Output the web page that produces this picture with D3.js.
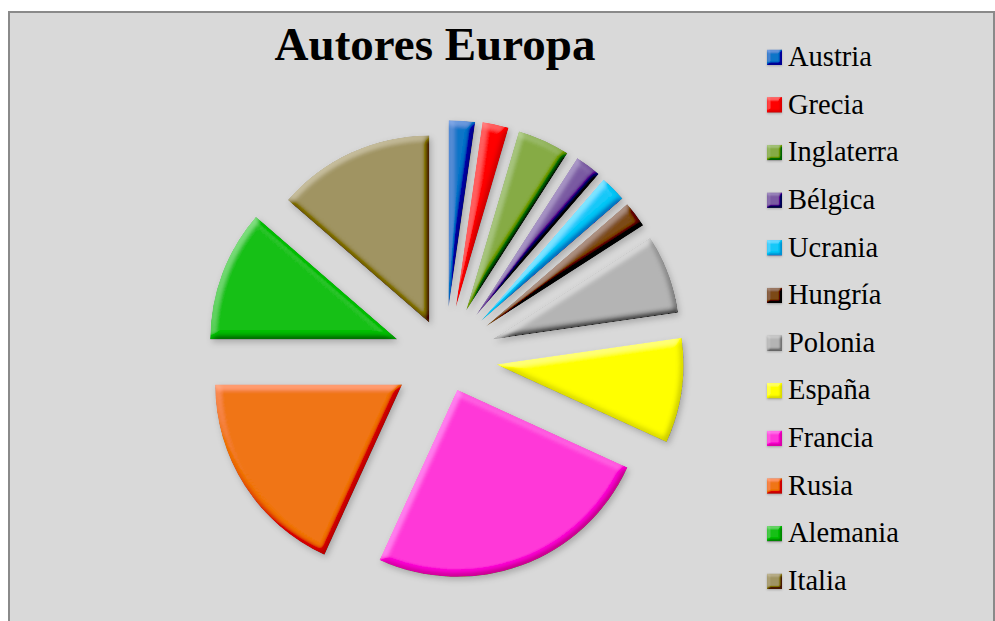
<!DOCTYPE html>
<html>
<head>
<meta charset="utf-8">
<script src="https://cdn.jsdelivr.net/npm/d3@7"></script>
<style>
  body { margin: 0; background: #fff; }
  svg { display: block; }
</style>
</head>
<body>
<div id="wrapper"></div>
<script>
// data
const paises = ["Austria", "Grecia", "Inglaterra", "Bélgica", "Ucrania", "Hungría",
                "Polonia", "España", "Francia", "Rusia", "Alemania", "Italia"]
const autores = [1, 1, 2, 1, 1, 1, 3, 4, 11, 8, 5, 6]

// styles
const colores = ["#0b74c8", "#ff0000", "#86ab44", "#7a5aa2", "#12c8f8", "#7c4a14",
                 "#b4b4b4", "#ffff00", "#ff38d8", "#f07514", "#14c014", "#a09462"]
const explode = [50, 51, 51, 52, 51, 51, 51, 52, 35, 51, 51, 38]

function drawPie() {
  const width = 995
  const height = 621
  const radius = 187
  const center = [445, 357]

  const svg = d3.select("#wrapper")
    .append("svg")
      .attr("width", width)
      .attr("height", height)

  const defs = svg.append("defs")

  // bevel + soft shadow filter, blur controls the bevel width
  function bevelFilter(id, blur, scale, strength, shadow) {
    const f = defs.append("filter")
      .attr("id", id)
      .attr("x", "-20%").attr("y", "-20%")
      .attr("width", "140%").attr("height", "140%")
    f.append("feGaussianBlur")
      .attr("in", "SourceAlpha")
      .attr("stdDeviation", blur)
      .attr("result", "blur")
    f.append("feDiffuseLighting")
      .attr("in", "blur")
      .attr("surfaceScale", scale)
      .attr("diffuseConstant", 1)
      .attr("lighting-color", "#fff")
      .attr("result", "light")
      .append("feDistantLight")
        .attr("azimuth", 235)
        .attr("elevation", 40)
    f.append("feComposite")
      .attr("in", "SourceGraphic")
      .attr("in2", "light")
      .attr("operator", "arithmetic")
      .attr("k1", 0).attr("k2", 1).attr("k3", strength).attr("k4", -0.643 * strength)
      .attr("result", "lit")
    f.append("feComposite")
      .attr("in", "lit")
      .attr("in2", "SourceAlpha")
      .attr("operator", "in")
      .attr("result", "bevel")
    f.append("feGaussianBlur")
      .attr("in", "SourceAlpha")
      .attr("stdDeviation", shadow)
      .attr("result", "sblur")
    f.append("feOffset")
      .attr("in", "sblur")
      .attr("dx", shadow * 0.6).attr("dy", shadow)
      .attr("result", "soff")
    f.append("feFlood")
      .attr("flood-color", "#000")
      .attr("flood-opacity", 0.22)
    f.append("feComposite")
      .attr("in2", "soff")
      .attr("operator", "in")
      .attr("result", "shadow")
    const merge = f.append("feMerge")
    merge.append("feMergeNode").attr("in", "shadow")
    merge.append("feMergeNode").attr("in", "bevel")
  }
  bevelFilter("bevel", 3, 4, 0.6, 3)
  bevelFilter("bevelSmall", 1.5, 3, 0.45, 0.8)

  // chart area
  svg.append("rect")
    .attr("x", 9)
    .attr("y", 12)
    .attr("width", 985)
    .attr("height", 620)
    .attr("fill", "#d9d9d9")
    .attr("stroke", "#8a8a8a")
    .attr("stroke-width", 2)

  // title
  svg.append("text")
    .attr("x", 435)
    .attr("y", 60)
    .attr("text-anchor", "middle")
    .style("font-family", "'Liberation Serif', 'Times New Roman', serif")
    .style("font-weight", "bold")
    .style("font-size", "47px")
    .text("Autores Europa")

  // pie
  const pie = d3.pie().sort(null).value(d => d)
  const arc = d3.arc().innerRadius(0).outerRadius(radius)
  const arcs = pie(autores)

  svg.append("g")
    .attr("transform", "translate(" + center[0] + "," + center[1] + ")")
    .selectAll("path")
    .data(arcs)
    .enter()
    .append("path")
      .attr("d", arc)
      .attr("fill", (d, i) => colores[i])
      .attr("filter", "url(#bevel)")
      .attr("transform", (d, i) => {
        const mid = (d.startAngle + d.endAngle) / 2
        return "translate(" + (Math.sin(mid) * explode[i]) + "," + (-Math.cos(mid) * explode[i]) + ")"
      })

  // legend
  const rowY = d3.scalePoint()
    .domain(paises)
    .range([66, 590])

  const legend = svg.append("g")
    .selectAll("g")
    .data(paises)
    .enter()
    .append("g")
      .attr("transform", d => "translate(767," + rowY(d) + ")")

  legend.append("rect")
    .attr("x", 0)
    .attr("y", -16.5)
    .attr("width", 15)
    .attr("height", 15.5)
    .attr("fill", (d, i) => colores[i])
    .attr("filter", "url(#bevelSmall)")

  legend.append("text")
    .attr("x", 21)
    .attr("y", 0)
    .style("font-family", "'Liberation Serif', 'Times New Roman', serif")
    .style("font-size", "28.5px")
    .text(d => d)
}

drawPie()
</script>
</body>
</html>
